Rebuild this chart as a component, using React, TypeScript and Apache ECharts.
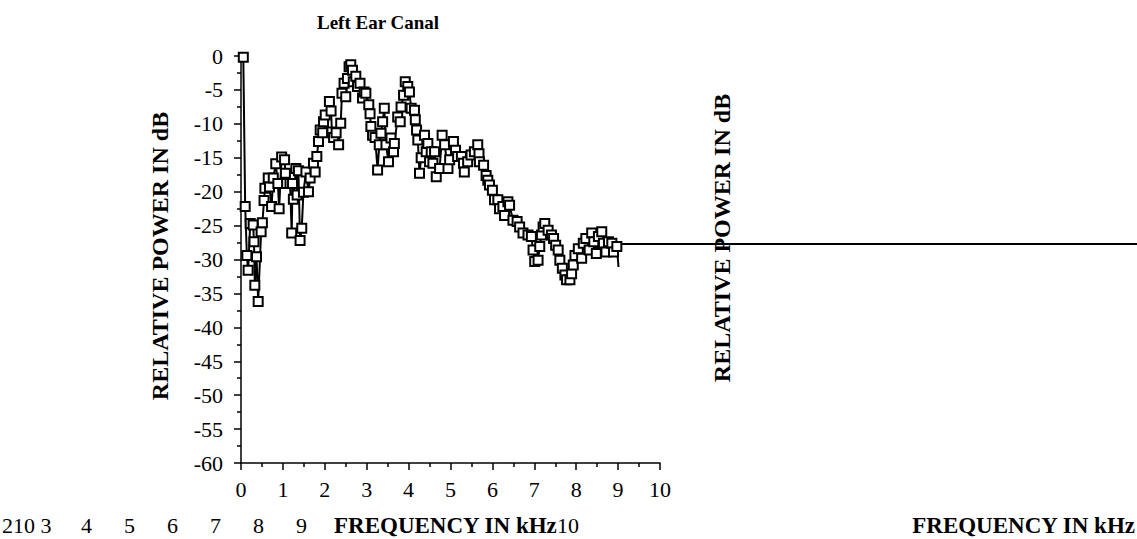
import React, { useEffect, useRef } from "react";
import * as echarts from "echarts";

const TITLE = "Left Ear Canal";
const Y_NAME = "RELATIVE POWER IN dB";
const X_NAME = "FREQUENCY IN kHz";

const freqKHz: number[] = [
  0.055, 0.10, 0.14, 0.17, 0.22, 0.29, 0.31, 0.33, 0.37, 0.41,
  0.48, 0.51, 0.55, 0.57, 0.65, 0.68, 0.73, 0.77, 0.83, 0.88,
  0.91, 0.97, 1.04, 1.06, 1.09, 1.17, 1.21, 1.23, 1.25, 1.31,
  1.34, 1.37, 1.41, 1.45, 1.49, 1.55, 1.61, 1.65, 1.73, 1.77,
  1.81, 1.85, 1.89, 1.95, 1.97, 2.01, 2.11, 2.15, 2.17, 2.21,
  2.27, 2.33, 2.38, 2.41, 2.46, 2.50, 2.54, 2.58, 2.62, 2.66,
  2.68, 2.74, 2.78, 2.84, 2.90, 2.94, 2.98, 3.05, 3.08, 3.10,
  3.14, 3.20, 3.26, 3.30, 3.34, 3.38, 3.42, 3.46, 3.52, 3.58,
  3.64, 3.66, 3.74, 3.80, 3.82, 3.88, 3.92, 3.98, 4.02, 4.06,
  4.14, 4.16, 4.19, 4.22, 4.26, 4.30, 4.38, 4.42, 4.46, 4.50,
  4.54, 4.58, 4.62, 4.66, 4.74, 4.80, 4.86, 4.94, 4.98, 5.07,
  5.12, 5.17, 5.26, 5.31, 5.33, 5.41, 5.49, 5.57, 5.65, 5.68,
  5.69, 5.79, 5.85, 5.89, 5.93, 6.00, 6.05, 6.13, 6.17, 6.25,
  6.29, 6.37, 6.41, 6.49, 6.59, 6.65, 6.73, 6.85, 6.93, 6.97,
  7.01, 7.09, 7.13, 7.17, 7.21, 7.25, 7.33, 7.41, 7.46, 7.51,
  7.57, 7.61, 7.67, 7.73, 7.77, 7.85, 7.89, 7.93, 7.97, 8.05,
  8.13, 8.17, 8.23, 8.31, 8.37, 8.42, 8.48, 8.53, 8.61, 8.65,
  8.71, 8.77, 8.85, 8.89, 8.97, 9.01,
];

const powerDb: number[] = [
  -0.2, -22.2, -29.4, -31.6, -24.7, -24.9, -27.4, -33.8, -29.6, -36.2,
  -25.9, -24.6, -21.3, -19.5, -18.0, -19.3, -22.2, -18.0, -15.9, -18.8,
  -22.5, -14.9, -15.3, -17.3, -18.8, -18.8, -26.1, -18.8, -21.1, -16.6,
  -20.5, -16.9, -27.2, -25.4, -20.1, -17.1, -20.0, -18.0, -15.8, -17.1,
  -14.8, -12.6, -10.9, -11.3, -9.7, -8.7, -6.7, -8.1, -11.2, -12.0,
  -11.3, -13.1, -9.9, -5.5, -4.0, -6.0, -3.3, -1.6, -1.3, -2.1,
  -3.8, -3.0, -4.5, -4.0, -6.2, -5.3, -5.5, -7.2, -8.5, -10.4,
  -11.7, -12.0, -16.8, -13.1, -11.4, -9.7, -7.7, -13.1, -15.6, -12.1,
  -14.1, -12.9, -9.0, -9.7, -7.5, -5.8, -3.8, -4.5, -5.3, -7.7,
  -8.0, -9.4, -10.9, -12.4, -17.3, -15.0, -11.7, -14.1, -12.9, -15.6,
  -14.1, -15.8, -14.1, -17.8, -16.6, -11.7, -13.1, -16.6, -15.3, -12.6,
  -13.9, -14.8, -14.8, -15.8, -17.1, -15.6, -14.6, -14.1, -13.1, -14.4,
  -15.6, -16.1, -17.6, -18.3, -19.0, -19.8, -21.2, -21.2, -22.5, -22.2,
  -23.5, -21.5, -22.0, -24.2, -24.4, -25.2, -26.1, -26.4, -26.6, -28.6,
  -30.3, -30.1, -28.1, -26.4, -25.2, -24.7, -25.7, -26.4, -26.9, -27.9,
  -28.6, -30.1, -31.3, -32.3, -33.0, -33.0, -32.1, -30.8, -29.4, -28.4,
  -29.8, -27.6, -26.9, -28.6, -26.1, -27.4, -29.1, -26.6, -25.9, -27.6,
  -28.9, -27.4, -27.6, -28.9, -28.1, -31.1,
];

// stray horizontal trace that runs off the plot to the right
const strayFreq: number[] = [8.92, 21.6];
const strayDb: number[] = [-27.7, -27.7];

// misplaced tick labels printed along the bottom of the figure
const strayTickLabels: string[] = ["210 3", "4", "5", "6", "7", "8", "9"];
const strayTickX: number[] = [2, 81, 124, 167, 210, 253, 296];

const SERIF = "'Liberation Serif', 'Times New Roman', serif";

export default function App() {
  const ref = useRef<HTMLDivElement>(null);

  useEffect(() => {
    if (!ref.current) return;
    const chart = echarts.init(ref.current, undefined, { renderer: "svg" });

    const mainData = freqKHz.map((f, i) =>
      i === freqKHz.length - 1
        ? { value: [f, powerDb[i]], symbol: "none" }
        : [f, powerDb[i]]
    );

    const textEl = (text: string, x: number, y: number, font: string, align: string, rotation = 0) => ({
      type: "text",
      x,
      y,
      rotation,
      style: { text, font, fill: "#000", align, verticalAlign: "middle" },
    });

    const graphics: any[] = [
      textEl(TITLE, 378, 22, `bold 19px ${SERIF}`, "center"),
      textEl(Y_NAME, 160, 256, `bold 24px ${SERIF}`, "center", Math.PI / 2),
      textEl(Y_NAME, 722, 238, `bold 24px ${SERIF}`, "center", Math.PI / 2),
      textEl(X_NAME, 334, 525, `bold 23px ${SERIF}`, "left"),
      textEl(X_NAME, 1135, 525, `bold 23px ${SERIF}`, "right"),
      textEl("10", 557, 525, `22px ${SERIF}`, "left"),
      ...strayTickLabels.map((t, i) => textEl(t, strayTickX[i], 525, `22px ${SERIF}`, "left")),
    ];

    chart.setOption({
      animation: false,
      backgroundColor: "#fff",
      grid: { left: 241, top: 56, width: 419, height: 407, containLabel: false },
      xAxis: {
        type: "value",
        min: 0,
        max: 10,
        interval: 1,
        axisLine: { show: true, onZero: false, lineStyle: { color: "#000", width: 1.5 } },
        axisTick: { show: true, inside: false, length: 7, lineStyle: { color: "#000", width: 1.5 } },
        minorTick: { show: true, splitNumber: 2, length: 4, lineStyle: { color: "#000", width: 1.5 } },
        splitLine: { show: false },
        axisLabel: { color: "#000", fontFamily: SERIF, fontSize: 22, margin: 15 },
      },
      yAxis: {
        type: "value",
        min: -60,
        max: 0,
        interval: 5,
        axisLine: { show: true, onZero: false, lineStyle: { color: "#000", width: 1.5 } },
        axisTick: { show: true, inside: false, length: 7, lineStyle: { color: "#000", width: 1.5 } },
        minorTick: { show: true, splitNumber: 2, length: 4, lineStyle: { color: "#000", width: 1.5 } },
        splitLine: { show: false },
        axisLabel: { color: "#000", fontFamily: SERIF, fontSize: 22, margin: 18 },
      },
      series: [
        {
          type: "line",
          data: mainData,
          symbol: "rect",
          symbolSize: 9,
          showAllSymbol: true,
          lineStyle: { color: "#000", width: 2 },
          itemStyle: { color: "#fff", borderColor: "#000", borderWidth: 2 },
          clip: false,
          z: 3,
        },
      ],
      graphic: graphics,
    });

    // stray trace, positioned through the chart's own scales
    const p0 = chart.convertToPixel({ gridIndex: 0 }, [strayFreq[0], strayDb[0]]) as number[];
    const p1 = chart.convertToPixel({ gridIndex: 0 }, [strayFreq[1], strayDb[1]]) as number[];
    chart.setOption({
      graphic: [
        ...graphics,
        {
          type: "line",
          z: 1,
          shape: { x1: p0[0], y1: p0[1], x2: p1[0], y2: p1[1] },
          style: { stroke: "#000", lineWidth: 2 },
        },
      ],
    });

    return () => chart.dispose();
  }, []);

  return (
    <div
      ref={ref}
      style={{ position: "absolute", left: 0, top: 0, width: 1137, height: 539, background: "#fff" }}
    />
  );
}
